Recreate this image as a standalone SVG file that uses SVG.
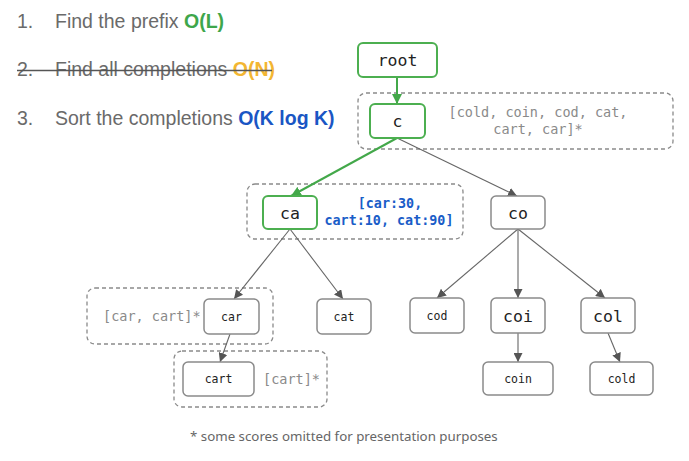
<svg xmlns="http://www.w3.org/2000/svg" width="689" height="461" viewBox="0 0 689 461">
<defs>
<style>
.step{font-family:"Liberation Sans",Arial,sans-serif;font-size:19.5px;fill:#6a6a6a}
.bold{font-weight:bold}
.node{fill:#fff;stroke:#8a8a8a;stroke-width:1.5}
.gnode{fill:#fff;stroke:#4caf50;stroke-width:2}
.dash{fill:none;stroke:#8a8a8a;stroke-width:1.3;stroke-dasharray:4 3}
.lbl{font-family:"DejaVu Sans Mono","Liberation Mono",monospace;fill:#222;text-anchor:middle}
.big{font-size:16.5px}
.small{font-size:11.5px}
.list{font-family:"DejaVu Sans Mono","Liberation Mono",monospace;font-size:13.5px;fill:#8a8a8a}
.blue{font-family:"DejaVu Sans Mono","Liberation Mono",monospace;font-size:13.4px;fill:#1a5dc8;font-weight:bold;text-anchor:middle}
.edge{stroke:#666;stroke-width:1.1;fill:none;marker-end:url(#ag)}
.gedge{stroke:#43a84a;stroke-width:2;fill:none;marker-end:url(#agreen)}
.foot{font-family:"Noto Sans","Open Sans",sans-serif;font-size:13.3px;fill:#666}
</style>
<marker id="ag" viewBox="0 0 10 10" refX="10" refY="5" markerWidth="9" markerHeight="9" markerUnits="userSpaceOnUse" orient="auto">
<path d="M0,0 L10,5 L0,10 z" fill="#555"/>
</marker>
<marker id="agreen" viewBox="0 0 10 10" refX="10" refY="5" markerWidth="10" markerHeight="10" markerUnits="userSpaceOnUse" orient="auto">
<path d="M0,0 L10,5 L0,10 z" fill="#43a84a"/>
</marker>
</defs>
<rect width="689" height="461" fill="#fff"/>

<g id="steps">
<text class="step" x="17" y="27.5">1.</text>
<text class="step" x="55" y="27.5">Find the prefix <tspan class="bold" fill="#3ea64b">O(L)</tspan></text>
<text class="step" x="17" y="75.5">2.</text>
<text class="step" x="55" y="75.5">Find all completions <tspan class="bold" fill="#f3b632">O(N)</tspan></text>
<line x1="17" y1="70.5" x2="272" y2="70.5" stroke="#555" stroke-width="1.3"/>
<text class="step" x="17" y="125">3.</text>
<text class="step" x="55" y="125">Sort the completions <tspan class="bold" fill="#1a56c4">O(K log K)</tspan></text>
</g>

<g id="groups">
<rect class="dash" x="358" y="93" width="315" height="56" rx="8"/>
<text class="list" x="538" y="117" text-anchor="middle">[cold, coin, cod, cat,</text>
<text class="list" x="538" y="134" text-anchor="middle">cart, car]*</text>
<rect class="dash" x="247" y="184" width="216" height="55" rx="8"/>
<text class="blue" x="390" y="208">[car:30,</text>
<text class="blue" x="389" y="225">cart:10, cat:90]</text>
<rect class="dash" x="87" y="288" width="186" height="56" rx="8"/>
<text class="list" x="103" y="321">[car, cart]*</text>
<rect class="dash" x="174" y="351" width="153" height="56" rx="8"/>
<text class="list" x="263" y="384">[cart]*</text>
</g>

<g id="connectors">
<line class="gedge" x1="397" y1="77" x2="397" y2="104"/>
<line class="gedge" x1="397" y1="138" x2="291" y2="196"/>
<line class="edge" x1="397" y1="138" x2="517" y2="196"/>
<line class="edge" x1="290" y1="229" x2="234" y2="299"/>
<line class="edge" x1="290" y1="229" x2="343" y2="299"/>
<line class="edge" x1="230" y1="334" x2="220" y2="362"/>
<line class="edge" x1="518" y1="229" x2="437" y2="298"/>
<line class="edge" x1="518" y1="229" x2="518" y2="298"/>
<line class="edge" x1="518" y1="229" x2="605" y2="298"/>
<line class="edge" x1="518" y1="333" x2="518" y2="362"/>
<line class="edge" x1="608" y1="333" x2="620" y2="362"/>
</g>

<g id="root"><rect class="gnode" x="358" y="43" width="79" height="34" rx="5"/><text class="lbl big" x="397.5" y="66">root</text></g>
<g id="c"><rect class="gnode" x="370" y="104" width="55" height="34" rx="5"/><text class="lbl big" x="397.5" y="127">c</text></g>
<g id="ca"><rect class="gnode" x="263" y="196" width="54" height="33" rx="5"/><text class="lbl big" x="290" y="218.5">ca</text></g>
<g id="co"><rect class="node" x="491" y="196" width="54" height="33" rx="5"/><text class="lbl big" x="518" y="218.5">co</text></g>
<g id="car"><rect class="node" x="204" y="299" width="55" height="35" rx="5"/><text class="lbl small" x="231.5" y="320.5">car</text></g>
<g id="cat"><rect class="node" x="317" y="299" width="54" height="35" rx="5"/><text class="lbl small" x="344" y="320.5">cat</text></g>
<g id="cart"><rect class="node" x="183" y="362" width="71" height="34" rx="5"/><text class="lbl small" x="218.5" y="383">cart</text></g>
<g id="cod"><rect class="node" x="410" y="298" width="54" height="35" rx="5"/><text class="lbl small" x="437" y="320">cod</text></g>
<g id="coi"><rect class="node" x="491" y="298" width="54" height="35" rx="5"/><text class="lbl big" x="518" y="321.5">coi</text></g>
<g id="col"><rect class="node" x="581" y="298" width="54" height="35" rx="5"/><text class="lbl big" x="608" y="321.5">col</text></g>
<g id="coin"><rect class="node" x="483" y="362" width="70" height="33" rx="5"/><text class="lbl small" x="518" y="383">coin</text></g>
<g id="cold"><rect class="node" x="590" y="362" width="63" height="33" rx="5"/><text class="lbl small" x="621.5" y="383">cold</text></g>

<text class="foot" x="190" y="441">* some scores omitted for presentation purposes</text>
</svg>
